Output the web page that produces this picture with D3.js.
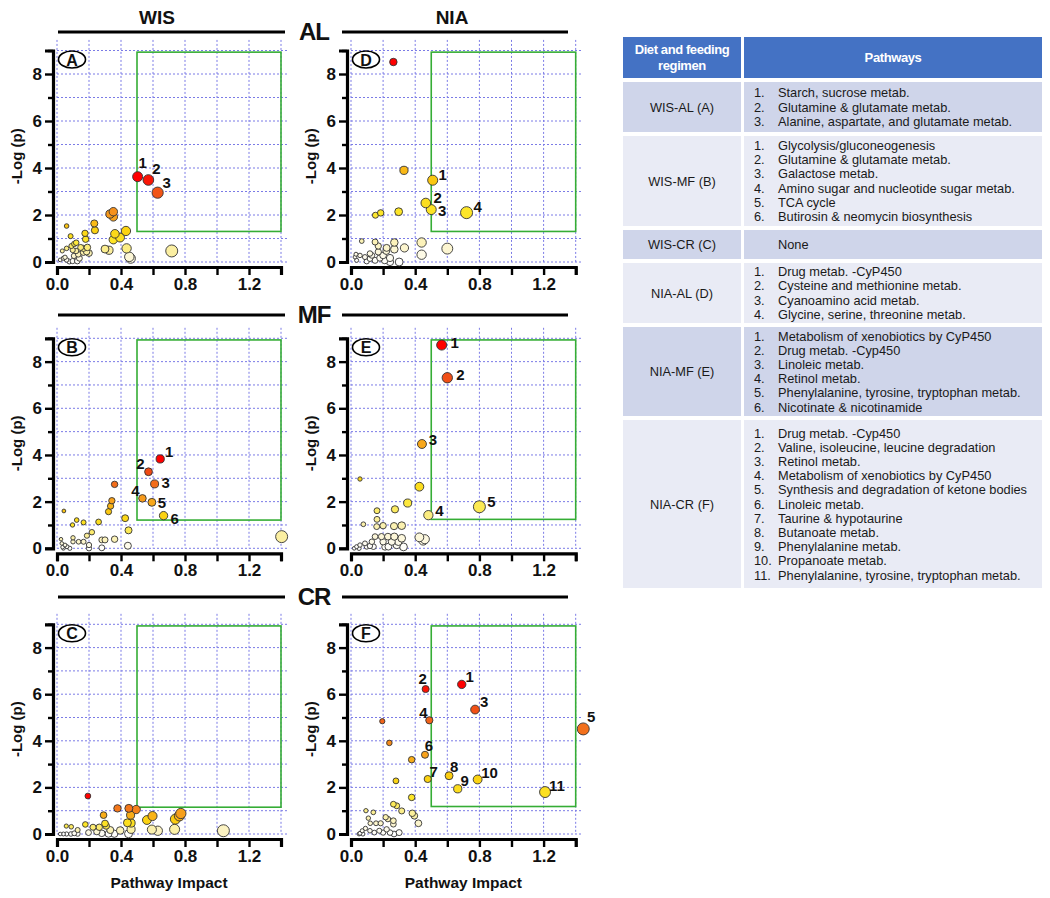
<!DOCTYPE html>
<html><head><meta charset="utf-8">
<script src="https://cdn.jsdelivr.net/npm/d3@7"></script>
<style>
body{margin:0;background:#fff}
svg{display:block}
text{font-family:"Liberation Sans",Arial,sans-serif}
</style>
</head><body>
<svg id="chart" width="1050" height="898"></svg>
<script>
// ---------------- DATA ----------------
const xTickValues = [0, 0.2, 0.4, 0.6, 0.8, 1.0, 1.2, 1.4];
const xTickLabeled = [0, 0.4, 0.8, 1.2];
const yTickValues = [0, 1, 2, 3, 4, 5, 6, 7, 8, 9];
const yTickLabeled = [0, 2, 4, 6, 8];
const strains = ["WIS", "NIA"];
const regimensShort = ["AL", "MF", "CR"];
const xTitle = "Pathway Impact";
const yTitle = "-Log (p)";

// [pathway impact, -log(p)] ; first points carry numbered labels
const wisAL = [[0.504,3.63],[0.571,3.49],[0.629,2.95],
 [0.331,2.04],[0.352,2.14],[0.352,1.92],[0.233,1.64],[0.237,1.35],[0.175,1.22],[0.179,0.97],
 [0.362,1.2],[0.352,0.95],[0.394,1.04],[0.431,1.32],[0.06,1.53],[0.085,1.1],
 [0.12,0.82],[0.108,0.77],[0.09,0.68],[0.06,0.58],[0.033,0.47],[0.148,0.62],[0.165,0.58],[0.19,0.62],
 [0.185,0.44],[0.2,0.38],[0.098,0.51],[0.119,0.47],[0.133,0.33],[0.165,0.41],[0.106,0.26],
 [0.30,0.55],[0.325,0.5],[0.435,0.58],[0.452,0.22],[0.46,0.15],[0.717,0.47],
 [0.02,0.09],[0.04,0.16],[0.06,0.09],[0.077,0.02],[0.098,0.04],[0.127,0.04],[0.14,0.16],[0.05,0.2]];
const wisALLabels = ["1","2","3"];

const niaAL = [[0.509,3.48],[0.466,2.51],[0.50,2.23],[0.72,2.1],
 [0.264,8.51],[0.33,3.9],[0.297,2.14],[0.152,1.99],[0.185,2.09],
 [0.067,0.89],[0.15,0.85],[0.17,0.68],[0.222,0.6],[0.27,0.83],[0.27,0.54],[0.333,0.6],[0.22,0.47],
 [0.44,0.83],[0.44,0.31],[0.6,0.57],
 [0.025,0.21],[0.056,0.28],[0.087,0.21],[0.118,0.14],[0.098,0.03],[0.13,0.28],[0.15,0.07],[0.18,0.17],
 [0.2,0.28],[0.21,0.07],[0.243,0.0],[0.243,0.17],[0.30,0.0],[0.035,0.07],[0.17,0.43],[0.031,0.33],[0.118,0.36]];
const niaALLabels = ["1","2","3","4"];

const wisMF = [[0.645,3.83],[0.572,3.28],[0.61,2.76],[0.534,2.14],[0.593,1.97],[0.666,1.4],
 [0.36,2.74],[0.343,2.04],[0.335,1.81],[0.322,1.57],[0.426,1.29],[0.26,1.13],[0.447,0.77],
 [0.166,1.11],[0.123,1.21],[0.097,1.0],[0.043,1.6],
 [0.218,0.69],[0.187,0.54],[0.36,0.39],[0.28,0.36],[0.30,0.36],[1.404,0.5],
 [0.443,0.11],[0.28,0.02],[0.2,0.14],[0.2,0.0],[0.1,0.45],[0.1,0.28],[0.135,0.28],[0.166,0.28],
 [0.025,0.39],[0.03,0.21],[0.04,0.0],[0.062,0.07],[0.08,0.0],[0.05,0.14],[0.035,0.05]];
const wisMFLabels = ["1","2","3","4","5","6"];

const niaMF = [[0.565,8.71],[0.60,7.31],[0.442,4.47],[0.482,1.42],[0.80,1.78],
 [0.426,2.64],[0.353,1.94],[0.056,2.97],[0.274,1.67],[0.162,1.61],[0.162,1.24],[0.16,0.93],[0.2,0.97],
 [0.268,0.95],[0.316,0.97],[0.077,1.03],
 [0.15,0.5],[0.19,0.5],[0.23,0.5],[0.27,0.5],[0.316,0.43],[0.295,0.28],[0.254,0.28],[0.2,0.28],
 [0.426,0.47],[0.46,0.39],[0.45,0.33],
 [0.327,0.06],[0.285,0.14],[0.233,0.07],[0.118,0.1],[0.087,0.21],[0.056,0.14],[0.035,0.07],[0.13,0.28],
 [0.098,0.07],[0.02,0.0],[0.05,0.0],[0.14,0.07],[0.212,0.06]];
const niaMFLabels = ["1","2","3","4","5"];

const wisCR = [[0.193,1.63],
 [0.378,1.1],[0.449,1.1],[0.495,1.05],[0.46,0.81],[0.291,0.81],
 [0.597,0.77],[0.562,0.6],[0.774,0.88],[0.765,0.78],[0.74,0.64],
 [0.44,0.48],[0.463,0.47],[0.30,0.45],[0.307,0.35],[0.264,0.29],[0.225,0.29],[0.177,0.41],
 [0.593,0.19],[0.63,0.14],[0.735,0.2],[1.04,0.14],
 [0.463,0.2],[0.447,0.01],[0.395,0.15],[0.358,0.01],[0.322,0.01],[0.28,0.03],[0.249,0.1],[0.197,0.06],
 [0.129,0.01],[0.108,0.03],[0.087,0.0],[0.06,0.0],[0.04,0.0],[0.02,0.0],
 [0.058,0.34],[0.089,0.31],[0.129,0.17],[0.333,0.17]];
const wisCRLabels = [];

const niaCR = [[0.69,6.42],[0.465,6.22],[0.773,5.34],[0.488,4.88],[1.447,4.51],[0.461,3.4],
 [0.478,2.36],[0.611,2.5],[0.665,1.94],[0.789,2.34],[1.209,1.8],
 [0.195,4.84],[0.239,3.91],[0.378,3.19],[0.28,2.28],[0.378,1.57],
 [0.264,1.28],[0.285,1.21],[0.316,0.99],[0.382,0.89],[0.395,0.78],[0.093,1.0],[0.139,0.93],
 [0.216,0.72],[0.23,0.64],[0.264,0.57],[0.264,0.42],[0.42,0.46],
 [0.108,0.68],[0.156,0.46],[0.185,0.46],[0.12,0.46],
 [0.056,0.03],[0.07,0.14],[0.09,0.24],[0.118,0.14],[0.145,0.06],[0.176,0.14],[0.2,0.06],
 [0.222,0.2],[0.243,0.06],[0.268,0.0],[0.30,0.06],[0.05,0.0],[0.074,0.0]];
const niaCRLabels = ["1","2","3","4","5","6","7","8","9","10","11"];

const tableHeaders = ["Diet and feeding\nregimen", "Pathways"];
const regimenRows = ["WIS-AL (A)", "WIS-MF (B)", "WIS-CR (C)", "NIA-AL (D)", "NIA-MF (E)", "NIA-CR (F)"];
const pathwayLists = [
 ["Starch, sucrose metab.", "Glutamine & glutamate metab.", "Alanine, aspartate, and glutamate metab."],
 ["Glycolysis/gluconeogenesis", "Glutamine & glutamate metab.", "Galactose metab.", "Amino sugar and nucleotide sugar metab.", "TCA cycle", "Butirosin & neomycin biosynthesis"],
 ["None"],
 ["Drug metab. -CyP450", "Cysteine and methionine metab.", "Cyanoamino acid metab.", "Glycine, serine, threonine metab."],
 ["Metabolism of xenobiotics by CyP450", "Drug metab. -Cyp450", "Linoleic metab.", "Retinol metab.", "Phenylalanine, tyrosine, tryptophan metab.", "Nicotinate & nicotinamide"],
 ["Drug metab. -Cyp450", "Valine, isoleucine, leucine degradation", "Retinol metab.", "Metabolism of xenobiotics by CyP450", "Synthesis and degradation of ketone bodies", "Linoleic metab.", "Taurine & hypotaurine", "Butanoate metab.", "Phenylalanine metab.", "Propanoate metab.", "Phenylalanine, tyrosine, tryptophan metab."]
];

// ---------------- LAYOUT ----------------
const svg = d3.select("#chart");
svg.append("rect").attr("width",1050).attr("height",898).attr("fill","#fff");

const colX = [[57, 281], [351, 575.7]];
const rowY = [[262, 50.5], [548.3, 338.3], [834, 624.3]];
const boxTop = 8.93;

const panels = [
 {key:"A", data:wisAL, labels:wisALLabels, col:0, row:0, boxBottom:1.3,
  off:[[5,-14],[8,-11],[9,-10]]},
 {key:"D", data:niaAL, labels:niaALLabels, col:1, row:0, boxBottom:1.3,
  off:[[10,-6],[12,-6],[11,1],[11,-6]]},
 {key:"B", data:wisMF, labels:wisMFLabels, col:0, row:1, boxBottom:1.21,
  off:[[9,-7],[-8,-8],[11,-1],[-7,-8],[10,0],[11,3]]},
 {key:"E", data:niaMF, labels:niaMFLabels, col:1, row:1, boxBottom:1.24,
  off:[[13,-3],[13,-3],[11,-5],[11,-5],[12,-5]]},
 {key:"C", data:wisCR, labels:wisCRLabels, col:0, row:2, boxBottom:1.15,
  off:[]},
 {key:"F", data:niaCR, labels:niaCRLabels, col:1, row:2, boxBottom:1.18,
  off:[[8,-8],[-3,-11],[9,-8],[-6,-8],[8,-12],[4,-9],[6,-8],[5,-9],[7,-8],[12,-7],[12,-7]]}
];

const colorStops = [0, 0.06, 0.14, 0.24, 0.38, 0.52, 0.7, 0.88, 1];
const colorRange = ["#ffffff","#fcf6d6","#fbee9a","#fde72a","#fbd00f","#f8a51b","#f3711b","#f04414","#ff0000"];
const color = d3.scaleLinear().domain(colorStops).range(colorRange).interpolate(d3.interpolateRgb).clamp(true);

const gridColor = "#7b7be6";

panels.forEach(p => {
  const [xa, xb] = colX[p.col];
  const [ya, yb] = rowY[p.row];
  const x = d3.scaleLinear().domain([0, 1.4]).range([xa, xb]);
  const y = d3.scaleLinear().domain([0, 9]).range([ya, yb]);
  const g = svg.append("g");

  // grid
  g.append("g").selectAll("line").data(xTickValues).join("line")
    .attr("x1", d => x(d)).attr("x2", d => x(d))
    .attr("y1", y(9.45)).attr("y2", y(0))
    .attr("stroke", gridColor).attr("stroke-width", 1).attr("stroke-dasharray", "2,2");
  g.append("g").selectAll("line").data(yTickValues).join("line")
    .attr("x1", x(0) - 4).attr("x2", x(1.445))
    .attr("y1", d => y(d)).attr("y2", d => y(d))
    .attr("stroke", gridColor).attr("stroke-width", 1).attr("stroke-dasharray", "2,2");

  // green significance box
  g.append("rect")
    .attr("x", x(0.5)).attr("y", y(boxTop))
    .attr("width", x(1.4) - x(0.5)).attr("height", y(p.boxBottom) - y(boxTop))
    .attr("fill", "none").attr("stroke", "#35ad35").attr("stroke-width", 1.6);

  // y axis
  const yAx = g.append("g").attr("transform", `translate(${x(0) - 4},0)`)
    .call(d3.axisLeft(y).tickValues(yTickValues).tickSizeOuter(0).tickSize(8)
      .tickFormat(d => yTickLabeled.includes(d) ? d : ""));
  yAx.select(".domain").attr("stroke", "#000").attr("stroke-width", 3.2);
  yAx.selectAll(".tick line").attr("x2", d => d % 2 === 0 ? -8 : -5).attr("stroke-width", 2.4).attr("stroke", "#000");
  yAx.selectAll(".tick text").attr("x", -11).attr("font-size", 17).attr("font-weight", "bold").attr("fill", "#111")
    .style("font-family", '"Liberation Sans",Arial,sans-serif');

  // x axis
  const xAx = g.append("g").attr("transform", `translate(0,${y(0) + 5})`)
    .call(d3.axisBottom(x).tickValues(xTickValues).tickSizeOuter(0).tickSize(8)
      .tickFormat(d => xTickLabeled.includes(d) ? d3.format(".1f")(d) : ""));
  xAx.select(".domain").attr("stroke", "#000").attr("stroke-width", 3.2);
  xAx.selectAll(".tick line").attr("stroke-width", 2.4).attr("stroke", "#000");
  xAx.selectAll(".tick text").attr("y", 11).attr("font-size", 17).attr("font-weight", "bold").attr("fill", "#111")
    .style("font-family", '"Liberation Sans",Arial,sans-serif');

  // axis titles
  g.append("text")
    .attr("transform", `translate(${x(0) - 41},${(y(0) + y(9)) / 2}) rotate(-90)`)
    .attr("text-anchor", "middle").attr("dominant-baseline", "central")
    .attr("font-size", 15).attr("font-weight", "bold").attr("fill", "#111").text(yTitle);
  if (p.row === 2) {
    g.append("text")
      .attr("x", (x(0) + x(1.4)) / 2).attr("y", y(0) + 48)
      .attr("text-anchor", "middle").attr("dominant-baseline", "central")
      .attr("font-size", 15.5).attr("font-weight", "bold").attr("fill", "#111").text(xTitle);
  }

  // bubbles
  const maxY = d3.max(p.data, d => d[1]);
  const maxX = d3.max(p.data, d => d[0]);
  const r = d3.scalePow().exponent(0.7).domain([0, maxX]).range([1.5, 6.0]);
  const pts = p.data.map((d, i) => ({ix: d[0], iy: d[1], label: p.labels[i], off: p.off[i]}));
  const drawn = pts.slice().sort((a, b) => a.iy - b.iy);
  g.append("g").selectAll("circle").data(drawn).join("circle")
    .attr("cx", d => x(d.ix)).attr("cy", d => y(d.iy)).attr("r", d => r(d.ix))
    .attr("fill", d => color(d.iy / maxY))
    .attr("stroke", "#333").attr("stroke-width", 0.9);

  // numbered labels
  g.append("g").selectAll("text").data(pts.filter(d => d.label)).join("text")
    .attr("x", d => x(d.ix) + d.off[0]).attr("y", d => y(d.iy) + d.off[1])
    .attr("text-anchor", "middle").attr("dominant-baseline", "central")
    .attr("font-size", 15).attr("font-weight", "bold").attr("fill", "#111")
    .text(d => d.label);

  // panel letter
  const cx = x(0) + 15, cy = y(9) + 9;
  g.append("ellipse").attr("cx", cx).attr("cy", cy).attr("rx", 13.5).attr("ry", 8.5)
    .attr("fill", "#fff").attr("stroke", "#000").attr("stroke-width", 1.6);
  g.append("text").attr("x", cx).attr("y", cy + 0.5)
    .attr("text-anchor", "middle").attr("dominant-baseline", "central")
    .attr("font-size", 16).attr("font-weight", "bold").attr("fill", "#111").text(p.key);
});

// column headers
const headerX = [157, 452];
strains.forEach((s, i) => {
  svg.append("text").attr("x", headerX[i]).attr("y", 17)
    .attr("text-anchor", "middle").attr("dominant-baseline", "central")
    .attr("font-size", 19).attr("font-weight", "bold").attr("fill", "#111").text(s);
});
// row headers and rules
const ruleY = [32, 315, 597];
regimensShort.forEach((s, i) => {
  svg.append("line").attr("x1", 58).attr("x2", 285).attr("y1", ruleY[i]).attr("y2", ruleY[i])
    .attr("stroke", "#000").attr("stroke-width", 3);
  svg.append("line").attr("x1", 342).attr("x2", 568).attr("y1", ruleY[i]).attr("y2", ruleY[i])
    .attr("stroke", "#000").attr("stroke-width", 3);
  svg.append("text").attr("x", 314).attr("y", ruleY[i] - 1)
    .attr("text-anchor", "middle").attr("dominant-baseline", "central")
    .attr("font-size", 24).attr("font-weight", "bold").attr("fill", "#111")
    .attr("letter-spacing", -1).text(s);
});

// ---------------- TABLE ----------------
const tX0 = 623, tX1 = 741, tX2 = 744, tX3 = 1042;
const headTop = 37, headBot = 78;
const rowBounds = [[82,132],[136,226],[230,259],[263,323],[327,416],[420,588]];
const rowFill = ["#cfd5ea", "#e9ebf5"];
const fs = 12.8;
const tg = svg.append("g");
tg.append("rect").attr("x", tX0).attr("y", headTop).attr("width", tX1 - tX0).attr("height", headBot - headTop).attr("fill", "#4472c4");
tg.append("rect").attr("x", tX2).attr("y", headTop).attr("width", tX3 - tX2).attr("height", headBot - headTop).attr("fill", "#4472c4");
const hLines = tableHeaders[0].split("\n");
hLines.forEach((t, i) => {
  tg.append("text").attr("x", (tX0 + tX1) / 2).attr("y", (headTop + headBot) / 2 + (i - (hLines.length - 1) / 2) * 15.5)
    .attr("text-anchor", "middle").attr("dominant-baseline", "central")
    .attr("font-size", 13).attr("font-weight", "bold").attr("fill", "#fff").attr("letter-spacing", -0.4).text(t);
});
tg.append("text").attr("x", (tX2 + tX3) / 2).attr("y", (headTop + headBot) / 2)
  .attr("text-anchor", "middle").attr("dominant-baseline", "central")
  .attr("font-size", 13).attr("font-weight", "bold").attr("fill", "#fff").attr("letter-spacing", -0.4).text(tableHeaders[1]);

regimenRows.forEach((name, i) => {
  const [t, b] = rowBounds[i];
  const fill = rowFill[i % 2];
  tg.append("rect").attr("x", tX0).attr("y", t).attr("width", tX1 - tX0).attr("height", b - t).attr("fill", fill);
  tg.append("rect").attr("x", tX2).attr("y", t).attr("width", tX3 - tX2).attr("height", b - t).attr("fill", fill);
  tg.append("text").attr("x", (tX0 + tX1) / 2).attr("y", (t + b) / 2)
    .attr("text-anchor", "middle").attr("dominant-baseline", "central")
    .attr("font-size", fs).attr("fill", "#1a1a1a").text(name);
  const items = pathwayLists[i];
  const lh = 14.2;
  const numbered = items.length > 1 || items[0] !== "None";
  items.forEach((it, k) => {
    const yy = (t + b) / 2 + (k - (items.length - 1) / 2) * lh;
    if (numbered) {
      tg.append("text").attr("x", 754).attr("y", yy).attr("dominant-baseline", "central")
        .attr("font-size", fs).attr("fill", "#1a1a1a").text((k + 1) + ".");
    }
    tg.append("text").attr("x", 778).attr("y", yy).attr("dominant-baseline", "central")
      .attr("font-size", fs).attr("fill", "#1a1a1a").text(it);
  });
});
</script>
</body></html>
